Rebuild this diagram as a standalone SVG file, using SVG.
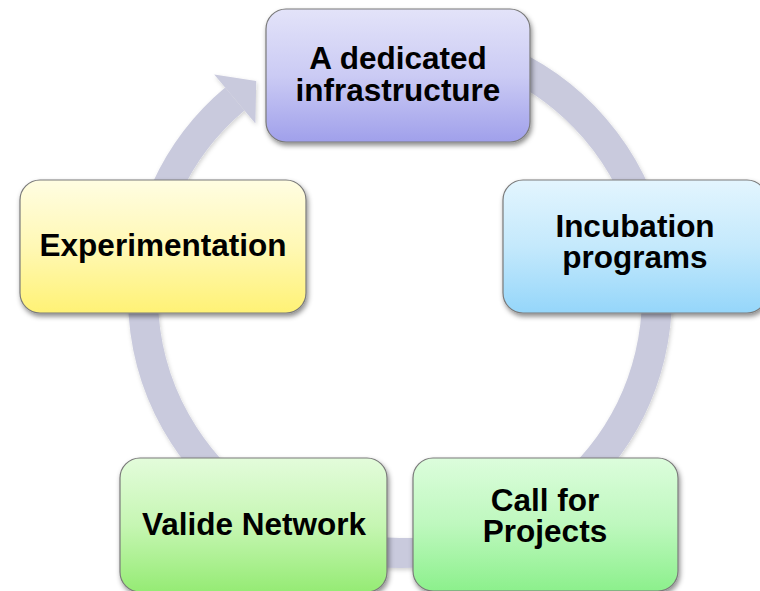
<svg xmlns="http://www.w3.org/2000/svg" width="760" height="591" viewBox="0 0 760 591">
<defs>
<filter id="sh" x="-10%" y="-10%" width="125%" height="130%">
<feDropShadow dx="1.5" dy="3" stdDeviation="2.5" flood-color="#000" flood-opacity="0.45"/>
</filter>
<filter id="rsh" x="-10%" y="-10%" width="120%" height="120%">
<feDropShadow dx="1" dy="2" stdDeviation="2" flood-color="#000" flood-opacity="0.18"/>
</filter>
<linearGradient id="gPurple" x1="0" y1="0" x2="0" y2="1">
<stop offset="0" stop-color="#e3e3f9"/><stop offset="0.5" stop-color="#cbcbf4"/><stop offset="1" stop-color="#a0a0eb"/>
</linearGradient>
<linearGradient id="gBlue" x1="0" y1="0" x2="0" y2="1">
<stop offset="0" stop-color="#e3f5fe"/><stop offset="0.5" stop-color="#c4e9fc"/><stop offset="1" stop-color="#95d6fa"/>
</linearGradient>
<linearGradient id="gGreen" x1="0" y1="0" x2="0" y2="1">
<stop offset="0" stop-color="#dcfddc"/><stop offset="0.5" stop-color="#bef8be"/><stop offset="1" stop-color="#8cf08c"/>
</linearGradient>
<linearGradient id="gLime" x1="0" y1="0" x2="0" y2="1">
<stop offset="0" stop-color="#e3fcdb"/><stop offset="0.5" stop-color="#c6f6b3"/><stop offset="1" stop-color="#95eb74"/>
</linearGradient>
<linearGradient id="gYellow" x1="0" y1="0" x2="0" y2="1">
<stop offset="0" stop-color="#fffde2"/><stop offset="0.5" stop-color="#fff8b5"/><stop offset="1" stop-color="#fff275"/>
</linearGradient>
</defs>
<style>
.box{stroke:#7a7a7a;stroke-width:1.2;filter:url(#sh)}
.lbl{font-family:"Liberation Sans",Arial,sans-serif;font-weight:bold;font-size:31.5px;fill:#000;text-anchor:middle}
.ring{fill:none;stroke:#c9cadd;stroke-width:30}
</style>
<rect width="760" height="591" fill="#ffffff"/>
<g id="connectors" filter="url(#rsh)">
<path class="ring" d="M 377.6 40 A 257 257 0 1 1 234.8 99.1"/>
<polygon points="214.2,74.6 256.2,81.1 255.4,123.6" fill="#c9cadd"/>
</g>
<g id="node-infrastructure">
<rect class="box" x="266" y="9" width="264" height="133" rx="20" fill="url(#gPurple)"/>
<text class="lbl" x="398" y="69">A dedicated</text>
<text class="lbl" x="398" y="101">infrastructure</text>
</g>
<g id="node-incubation">
<rect class="box" x="503" y="180" width="264" height="133" rx="20" fill="url(#gBlue)"/>
<text class="lbl" x="635" y="237">Incubation</text>
<text class="lbl" x="635" y="268">programs</text>
</g>
<g id="node-call">
<rect class="box" x="413" y="458" width="265" height="133" rx="20" fill="url(#gGreen)"/>
<text class="lbl" x="545" y="511">Call for</text>
<text class="lbl" x="545" y="542">Projects</text>
</g>
<g id="node-valide">
<rect class="box" x="120" y="458" width="267" height="134" rx="20" fill="url(#gLime)"/>
<text class="lbl" x="254" y="535">Valide Network</text>
</g>
<g id="node-experimentation">
<rect class="box" x="20" y="180" width="286" height="133" rx="20" fill="url(#gYellow)"/>
<text class="lbl" x="163" y="256">Experimentation</text>
</g>
</svg>
